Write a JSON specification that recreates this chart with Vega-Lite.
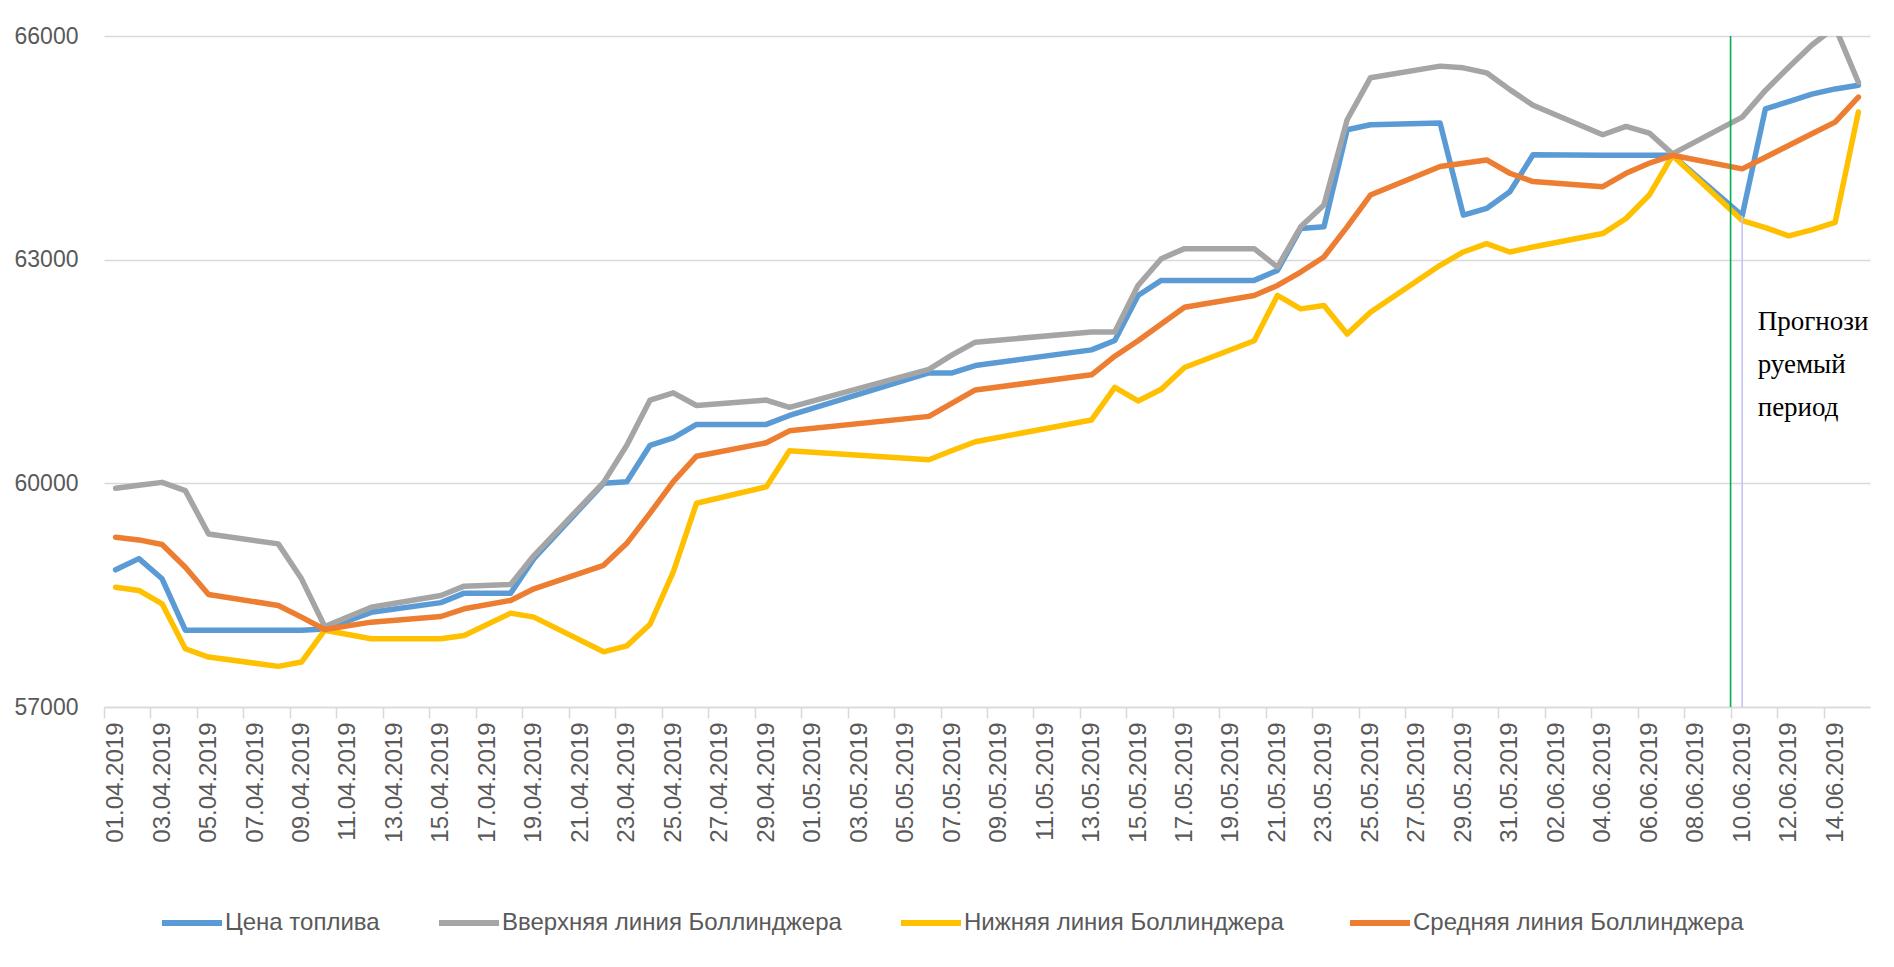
{
  "$schema": "https://vega.github.io/schema/vega-lite/v6.json",
  "width": 1766,
  "height": 671,
  "autosize": {"type": "none"},
  "padding": {"left": 104, "top": 36, "right": 24, "bottom": 260},
  "background": "white",
  "config": {
    "font": "Liberation Sans, Arial, sans-serif",
    "view": {"stroke": null}
  },
  "encoding": {
    "x": {
      "field": "date",
      "type": "temporal",
      "scale": {"domain": [{"year": 2019, "month": 3, "date": 31, "hours": 12}, {"year": 2019, "month": 6, "date": 15, "hours": 12}]},
      "axis": {
        "title": null,
        "grid": false,
        "values": [
          {"year": 2019, "month": 4, "date": 1}, {"year": 2019, "month": 4, "date": 3}, {"year": 2019, "month": 4, "date": 5}, {"year": 2019, "month": 4, "date": 7}, {"year": 2019, "month": 4, "date": 9},
          {"year": 2019, "month": 4, "date": 11}, {"year": 2019, "month": 4, "date": 13}, {"year": 2019, "month": 4, "date": 15}, {"year": 2019, "month": 4, "date": 17}, {"year": 2019, "month": 4, "date": 19},
          {"year": 2019, "month": 4, "date": 21}, {"year": 2019, "month": 4, "date": 23}, {"year": 2019, "month": 4, "date": 25}, {"year": 2019, "month": 4, "date": 27}, {"year": 2019, "month": 4, "date": 29},
          {"year": 2019, "month": 5, "date": 1}, {"year": 2019, "month": 5, "date": 3}, {"year": 2019, "month": 5, "date": 5}, {"year": 2019, "month": 5, "date": 7}, {"year": 2019, "month": 5, "date": 9},
          {"year": 2019, "month": 5, "date": 11}, {"year": 2019, "month": 5, "date": 13}, {"year": 2019, "month": 5, "date": 15}, {"year": 2019, "month": 5, "date": 17}, {"year": 2019, "month": 5, "date": 19},
          {"year": 2019, "month": 5, "date": 21}, {"year": 2019, "month": 5, "date": 23}, {"year": 2019, "month": 5, "date": 25}, {"year": 2019, "month": 5, "date": 27}, {"year": 2019, "month": 5, "date": 29},
          {"year": 2019, "month": 5, "date": 31}, {"year": 2019, "month": 6, "date": 2}, {"year": 2019, "month": 6, "date": 4}, {"year": 2019, "month": 6, "date": 6}, {"year": 2019, "month": 6, "date": 8},
          {"year": 2019, "month": 6, "date": 10}, {"year": 2019, "month": 6, "date": 12}, {"year": 2019, "month": 6, "date": 14}, {"year": 2019, "month": 6, "date": 16}
        ],
        "format": "%d.%m.%Y",
        "labelExpr": "date(datum.value) == 16 ? '' : datum.label",
        "labelAngle": -90,
        "labelOverlap": false,
        "labelFlush": false,
        "labelBound": false,
        "tickOffset": -11.62,
        "labelOffset": 11.62,
        "tickSize": 11,
        "tickColor": "#d9d9d9",
        "tickWidth": 1.5,
        "domainColor": "#d9d9d9",
        "domainWidth": 1.5,
        "labelPadding": 4,
        "labelFontSize": 24,
        "labelColor": "#595959"
      }
    },
    "y": {
      "field": "value",
      "type": "quantitative",
      "scale": {"domain": [57000, 66000], "zero": false, "nice": false},
      "axis": {
        "title": null,
        "values": [57000, 60000, 63000, 66000],
        "format": "d",
        "domain": false,
        "ticks": false,
        "grid": true,
        "gridColor": "#d9d9d9",
        "gridWidth": 1.5,
        "labelPadding": 26,
        "labelFontSize": 23,
        "labelColor": "#595959"
      }
    }
  },
  "layer": [
    {
      "data": {
        "values": [
          {"date": "2019-04-01T00:00:00", "Цена топлива": 58840, "Вверхняя линия Боллинджера": 59933, "Нижняя линия  Боллинджера": 58607, "Средняя линия Боллинджера": 59277},
          {"date": "2019-04-02T00:00:00", "Цена топлива": 58990, "Вверхняя линия Боллинджера": 59975, "Нижняя линия  Боллинджера": 58563, "Средняя линия Боллинджера": 59241},
          {"date": "2019-04-03T00:00:00", "Цена топлива": 58720, "Вверхняя линия Боллинджера": 60013, "Нижняя линия  Боллинджера": 58384, "Средняя линия Боллинджера": 59179},
          {"date": "2019-04-04T00:00:00", "Цена топлива": 58030, "Вверхняя линия Боллинджера": 59902, "Нижняя линия  Боллинджера": 57781, "Средняя линия Боллинджера": 58875},
          {"date": "2019-04-05T00:00:00", "Цена топлива": 58030, "Вверхняя линия Боллинджера": 59321, "Нижняя линия  Боллинджера": 57670, "Средняя линия Боллинджера": 58509},
          {"date": "2019-04-08T00:00:00", "Цена топлива": 58030, "Вверхняя линия Боллинджера": 59188, "Нижняя линия  Боллинджера": 57545, "Средняя линия Боллинджера": 58362},
          {"date": "2019-04-09T00:00:00", "Цена топлива": 58030, "Вверхняя линия Боллинджера": 58719, "Нижняя линия  Боллинджера": 57603, "Средняя линия Боллинджера": 58205},
          {"date": "2019-04-10T00:00:00", "Цена топлива": 58045, "Вверхняя линия Боллинджера": 58080, "Нижняя линия  Боллинджера": 58030, "Средняя линия Боллинджера": 58040},
          {"date": "2019-04-12T00:00:00", "Цена топлива": 58270, "Вверхняя линия Боллинджера": 58339, "Нижняя линия  Боллинджера": 57915, "Средняя линия Боллинджера": 58138},
          {"date": "2019-04-15T00:00:00", "Цена топлива": 58400, "Вверхняя линия Боллинджера": 58496, "Нижняя линия  Боллинджера": 57915, "Средняя линия Боллинджера": 58214},
          {"date": "2019-04-16T00:00:00", "Цена топлива": 58527, "Вверхняя линия Боллинджера": 58621, "Нижняя линия  Боллинджера": 57960, "Средняя линия Боллинджера": 58317},
          {"date": "2019-04-18T00:00:00", "Цена топлива": 58527, "Вверхняя линия Боллинджера": 58643, "Нижняя линия  Боллинджера": 58259, "Средняя линия Боллинджера": 58429},
          {"date": "2019-04-19T00:00:00", "Цена топлива": 58990, "Вверхняя линия Боллинджера": 59031, "Нижняя линия  Боллинджера": 58205, "Средняя линия Боллинджера": 58585},
          {"date": "2019-04-22T00:00:00", "Цена топлива": 60000, "Вверхняя линия Боллинджера": 60013, "Нижняя линия  Боллинджера": 57740, "Средняя линия Боллинджера": 58900},
          {"date": "2019-04-23T00:00:00", "Цена топлива": 60020, "Вверхняя линия Боллинджера": 60510, "Нижняя линия  Боллинджера": 57820, "Средняя линия Боллинджера": 59195},
          {"date": "2019-04-24T00:00:00", "Цена топлива": 60510, "Вверхняя линия Боллинджера": 61117, "Нижняя линия  Боллинджера": 58110, "Средняя линия Боллинджера": 59600},
          {"date": "2019-04-25T00:00:00", "Цена топлива": 60610, "Вверхняя линия Боллинджера": 61214, "Нижняя линия  Боллинджера": 58811, "Средняя линия Боллинджера": 60024},
          {"date": "2019-04-26T00:00:00", "Цена топлива": 60790, "Вверхняя линия Боллинджера": 61044, "Нижняя линия  Боллинджера": 59733, "Средняя линия Боллинджера": 60364},
          {"date": "2019-04-29T00:00:00", "Цена топлива": 60790, "Вверхняя линия Боллинджера": 61117, "Нижняя линия  Боллинджера": 59952, "Средняя линия Боллинджера": 60544},
          {"date": "2019-04-30T00:00:00", "Цена топлива": 60910, "Вверхняя линия Боллинджера": 61020, "Нижняя линия  Боллинджера": 60437, "Средняя линия Боллинджера": 60704},
          {"date": "2019-05-06T00:00:00", "Цена топлива": 61480, "Вверхняя линия Боллинджера": 61529, "Нижняя линия  Боллинджера": 60316, "Средняя линия Боллинджера": 60898},
          {"date": "2019-05-07T00:00:00", "Цена топлива": 61480, "Вверхняя линия Боллинджера": 61723, "Нижняя линия  Боллинджера": 60440, "Средняя линия Боллинджера": 61075},
          {"date": "2019-05-08T00:00:00", "Цена топлива": 61580, "Вверхняя линия Боллинджера": 61893, "Нижняя линия  Боллинджера": 60558, "Средняя линия Боллинджера": 61253},
          {"date": "2019-05-13T00:00:00", "Цена топлива": 61790, "Вверхняя линия Боллинджера": 62030, "Нижняя линия  Боллинджера": 60850, "Средняя линия Боллинджера": 61456},
          {"date": "2019-05-14T00:00:00", "Цена топлива": 61915, "Вверхняя линия Боллинджера": 62030, "Нижняя линия  Боллинджера": 61286, "Средняя линия Боллинджера": 61705},
          {"date": "2019-05-15T00:00:00", "Цена топлива": 62520, "Вверхняя линия Боллинджера": 62654, "Нижняя линия  Боллинджера": 61105, "Средняя линия Боллинджера": 61913},
          {"date": "2019-05-16T00:00:00", "Цена топлива": 62722, "Вверхняя линия Боллинджера": 63013, "Нижняя линия  Боллинджера": 61262, "Средняя линия Боллинджера": 62138},
          {"date": "2019-05-17T00:00:00", "Цена топлива": 62722, "Вверхняя линия Боллинджера": 63148, "Нижняя линия  Боллинджера": 61554, "Средняя линия Боллинджера": 62362},
          {"date": "2019-05-20T00:00:00", "Цена топлива": 62722, "Вверхняя линия Боллинджера": 63148, "Нижняя линия  Боллинджера": 61913, "Средняя линия Боллинджера": 62520},
          {"date": "2019-05-21T00:00:00", "Цена топлива": 62856, "Вверхняя линия Боллинджера": 62901, "Нижняя линия  Боллинджера": 62520, "Средняя линия Боллинджера": 62654},
          {"date": "2019-05-22T00:00:00", "Цена топлива": 63418, "Вверхняя линия Боллинджера": 63440, "Нижняя линия  Боллинджера": 62340, "Средняя линия Боллинджера": 62834},
          {"date": "2019-05-23T00:00:00", "Цена топлива": 63440, "Вверхняя линия Боллинджера": 63732, "Нижняя линия  Боллинджера": 62385, "Средняя линия Боллинджера": 63036},
          {"date": "2019-05-24T00:00:00", "Цена топлива": 64743, "Вверхняя линия Боллинджера": 64877, "Нижняя линия  Боллинджера": 62003, "Средняя линия Боллинджера": 63440},
          {"date": "2019-05-25T00:00:00", "Цена топлива": 64810, "Вверхняя линия Боллинджера": 65439, "Нижняя линия  Боллинджера": 62295, "Средняя линия Боллинджера": 63867},
          {"date": "2019-05-28T00:00:00", "Цена топлива": 64832, "Вверхняя линия Боллинджера": 65596, "Нижняя линия  Боллинджера": 62924, "Средняя линия Боллинджера": 64249},
          {"date": "2019-05-29T00:00:00", "Цена топлива": 63597, "Вверхняя линия Боллинджера": 65573, "Нижняя линия  Боллинджера": 63103, "Средняя линия Боллинджера": 64293},
          {"date": "2019-05-30T00:00:00", "Цена топлива": 63687, "Вверхняя линия Боллинджера": 65506, "Нижняя линия  Боллинджера": 63215, "Средняя линия Боллинджера": 64338},
          {"date": "2019-05-31T00:00:00", "Цена топлива": 63912, "Вверхняя линия Боллинджера": 65281, "Нижняя линия  Боллинджера": 63103, "Средняя линия Боллинджера": 64159},
          {"date": "2019-06-01T00:00:00", "Цена топлива": 64406, "Вверхняя линия Боллинджера": 65070, "Нижняя линия  Боллинджера": 63170, "Средняя линия Боллинджера": 64047},
          {"date": "2019-06-04T00:00:00", "Цена топлива": 64400, "Вверхняя линия Боллинджера": 64675, "Нижняя линия  Боллинджера": 63350, "Средняя линия Боллинджера": 63979},
          {"date": "2019-06-05T00:00:00", "Цена топлива": 64400, "Вверхняя линия Боллинджера": 64787, "Нижняя линия  Боллинджера": 63552, "Средняя линия Боллинджера": 64159},
          {"date": "2019-06-06T00:00:00", "Цена топлива": 64400, "Вверхняя линия Боллинджера": 64698, "Нижняя линия  Боллинджера": 63867, "Средняя линия Боллинджера": 64293},
          {"date": "2019-06-07T00:00:00", "Цена топлива": 64400, "Вверхняя линия Боллинджера": 64419, "Нижняя линия  Боллинджера": 64397, "Средняя линия Боллинджера": 64400},
          {"date": "2019-06-10T00:00:00", "Цена топлива": 63590, "Вверхняя линия Боллинджера": 64912, "Нижняя линия  Боллинджера": 63524, "Средняя линия Боллинджера": 64218},
          {"date": "2019-06-11T00:00:00", "Цена топлива": 65024, "Вверхняя линия Боллинджера": 65270, "Нижняя линия  Боллинджера": 63430, "Средняя линия Боллинджера": 64374},
          {"date": "2019-06-12T00:00:00", "Цена топлива": 65120, "Вверхняя линия Боллинджера": 65580, "Нижняя линия  Боллинджера": 63320, "Средняя линия Боллинджера": 64531},
          {"date": "2019-06-13T00:00:00", "Цена топлива": 65220, "Вверхняя линия Боллинджера": 65880, "Нижняя линия  Боллинджера": 63400, "Средняя линия Боллинджера": 64688},
          {"date": "2019-06-14T00:00:00", "Цена топлива": 65290, "Вверхняя линия Боллинджера": 66120, "Нижняя линия  Боллинджера": 63500, "Средняя линия Боллинджера": 64845},
          {"date": "2019-06-15T00:00:00", "Цена топлива": 65340, "Вверхняя линия Боллинджера": 65380, "Нижняя линия  Боллинджера": 64980, "Средняя линия Боллинджера": 65180}
        ]
      },
      "transform": [
        {"fold": ["Цена топлива", "Вверхняя линия Боллинджера", "Нижняя линия  Боллинджера", "Средняя линия Боллинджера"], "as": ["series", "value"]},
        {"filter": "isValid(datum.value)"}
      ],
      "mark": {"type": "line", "strokeWidth": 5.5, "strokeJoin": "round", "strokeCap": "round", "clip": true},
      "encoding": {
        "color": {
          "field": "series",
          "type": "nominal",
          "scale": {
            "domain": ["Цена топлива", "Вверхняя линия Боллинджера", "Нижняя линия  Боллинджера", "Средняя линия Боллинджера"],
            "range": ["#5b9bd5", "#a5a5a5", "#ffc000", "#ed7d31"]
          },
          "legend": {
            "title": null,
            "orient": "none",
            "legendX": 55,
            "legendY": 854,
            "direction": "horizontal",
            "symbolType": "stroke",
            "symbolSize": 3600,
            "symbolStrokeWidth": 6,
            "labelFontSize": 24,
            "labelColor": "#595959",
            "labelOffset": 0,
            "labelLimit": 0,
            "columnPadding": 47
          }
        }
      }
    },
    {
      "data": {"values": [{"date": "2019-06-09T12:00:00", "value": 57000, "hi": 66000}]},
      "mark": {"type": "rule", "color": "#00b050", "strokeWidth": 1.6},
      "encoding": {
        "y2": {"field": "hi"}
      }
    },
    {
      "data": {"values": [{"date": "2019-06-10T00:00:00", "value": 57000, "hi": 63590}]},
      "mark": {"type": "rule", "color": "#c4c4f2", "strokeWidth": 1.6},
      "encoding": {
        "y2": {"field": "hi"}
      }
    },
    {
      "data": {"values": [{"date": "2019-06-10T16:00:00", "value": 62057, "label": "Прогнози\nруемый\nпериод"}]},
      "mark": {"type": "text", "font": "Liberation Serif", "fontSize": 27, "align": "left", "baseline": "alphabetic", "lineBreak": "\n", "lineHeight": 43, "color": "#000000"},
      "encoding": {
        "text": {"field": "label"}
      }
    }
  ]
}
